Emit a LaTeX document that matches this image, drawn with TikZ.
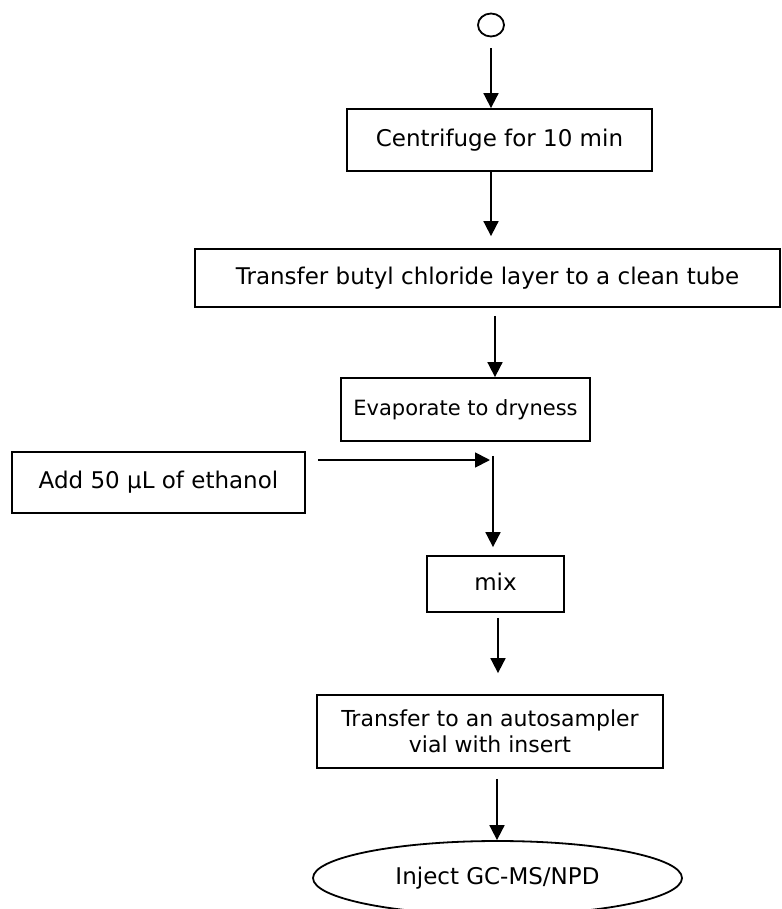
\documentclass[tikz,border=0pt]{standalone}
\usepackage{fontspec}
\setmainfont{DejaVu Sans}
\usetikzlibrary{arrows.meta,shapes.geometric}

\tikzset{
  stepbox/.style={draw, line width=1.8pt, rectangle, inner sep=0pt, align=center,
    font=\fontsize{23}{26}\selectfont},
  endcap/.style={draw, line width=1.8pt, ellipse, inner sep=0pt,
    font=\fontsize{23}{26}\selectfont},
  flow/.style={line width=1.8pt, -{Triangle[width=15pt,length=15pt]}},
}

\begin{document}
\begin{tikzpicture}[x=1pt, y=-1pt]
  \clip (0,0) rectangle (781,909);
  \fill[white] (0,0) rectangle (781,909);

  % start connector
  \node[draw, line width=1.8pt, ellipse, minimum width=26pt, minimum height=23pt, inner sep=0pt] (start) at (491,25) {};

  % process steps
  \node[stepbox, minimum width=305pt, minimum height=62pt] (spin) at (499.5,140) {Centrifuge for 10 min};
  \node[stepbox, minimum width=585pt, minimum height=58pt] (xfer) at (487.5,278) {Transfer butyl chloride layer to a clean tube};
  \node[stepbox, minimum width=249pt, minimum height=63pt, font=\fontsize{21}{24}\selectfont] (evap) at (465.5,409.5) {Evaporate to dryness};
  \node[stepbox, minimum width=293pt, minimum height=61pt] (etoh) at (158.5,482.5) {\raisebox{3pt}{Add 50 µL of ethanol}};
  \node[stepbox, minimum width=137pt, minimum height=56pt] (mix) at (495.5,584) {\raisebox{4pt}{mix}};
  \node[stepbox, minimum width=346pt, minimum height=73pt, font=\fontsize{22}{26}\selectfont] (vial) at (490,731.5) {Transfer to an autosampler\\vial with insert};
  \node[endcap, minimum width=369pt, minimum height=74pt] (gcms) at (497.5,878) {\raisebox{5pt}{Inject GC-MS/NPD}};

  % connector columns
  \coordinate (c1) at (491,0);
  \coordinate (c2) at (495,0);
  \coordinate (j) at (493,460);
  \coordinate (c4) at (498,0);
  \coordinate (c5) at (497,0);

  % connectors
  \draw[flow, shorten <=11pt] (start.south) -- (spin.north -| c1);
  \draw[flow, shorten >=12pt] (spin.south -| c1) -- (xfer.north -| c1);
  \draw[flow, shorten <=8pt] (xfer.south -| c2) -- (evap.north -| c2);
  \draw[flow, shorten <=12pt, shorten >=3pt] (etoh.east |- j) -- (j);
  \draw[flow, shorten <=14pt, shorten >=8pt] (evap.south -| j) -- (mix.north -| j);
  \draw[flow, shorten <=5pt, shorten >=21pt] (mix.south -| c4) -- (vial.north -| c4);
  \draw[flow, shorten <=10pt] (vial.south -| c5) -- (gcms.north -| c5);
\end{tikzpicture}
\end{document}
